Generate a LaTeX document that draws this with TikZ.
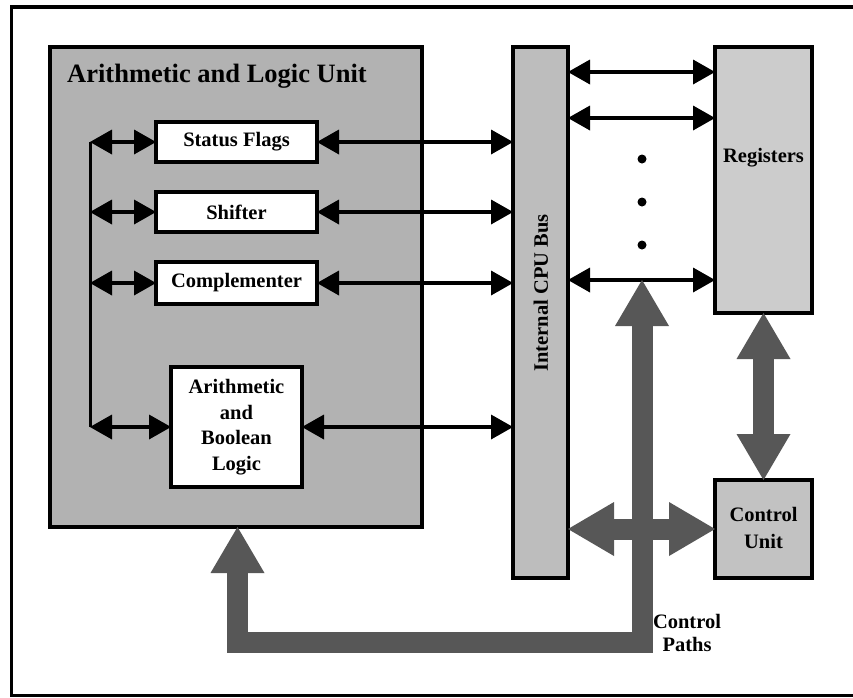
\documentclass[tikz,border=0pt]{standalone}
\usepackage{fontspec}
\setmainfont{Liberation Serif}
\usetikzlibrary{arrows.meta,calc}

\definecolor{aluFill}{gray}{0.70}
\definecolor{busFill}{gray}{0.74}
\definecolor{regFill}{gray}{0.80}
\definecolor{ctlFill}{gray}{0.76}
\definecolor{pathGrey}{gray}{0.34}

\tikzset{
  bhead/.tip={Triangle[length=22pt,width=25pt,line width=0pt]},
  fhead/.tip={Triangle[length=46pt,width=54pt,line width=0pt]},
  unitbox/.style={draw=black, line width=4.5pt, inner sep=0pt, outer sep=0pt},
  whitebox/.style={unitbox, fill=white, line width=4pt},
  lbl/.style={font=\fontsize{20.5}{25.5}\selectfont\bfseries, align=center, inner sep=0pt},
  busarrow/.style={line width=3.5pt, bhead-bhead},
  fatpath/.style={draw=pathGrey, line width=21pt, line join=miter, fhead-fhead},
  blob/.style={circle, fill=black, inner sep=0pt, minimum size=9pt}
}

\begin{document}
\begin{tikzpicture}[x=1pt,y=-1pt]
\useasboundingbox (0,0) rectangle (853,697);

% page frame
\draw[line width=3.5pt] (853,7) -- (11.5,7) -- (11.5,697);
\draw[line width=3pt] (11.5,695) -- (853,695);

% main units
\node[unitbox, fill=aluFill, minimum width=372pt, minimum height=480pt] (alu) at (236,287) {};
\node[font=\fontsize{26.5}{30}\selectfont\bfseries, anchor=base west, inner sep=0pt] (alutitle) at (67,82) {Arithmetic and Logic Unit};

\node[unitbox, fill=busFill, minimum width=55pt, minimum height=531pt] (bus) at (540.5,312.5) {};
\node[lbl, rotate=90] (buslabel) at (541,293) {Internal CPU Bus};

\node[unitbox, fill=regFill, minimum width=97pt, minimum height=266pt] (reg) at (763.5,180) {};
\node[lbl] (reglabel) at (763.5,158) {Registers};

\node[unitbox, fill=ctlFill, minimum width=97pt, minimum height=98pt] (cu) at (763.5,529) {};
\node[lbl] (culabel) at (763.5,528) {Control\\[1pt]Unit};

% ALU components
\node[whitebox, minimum width=161pt, minimum height=40pt] (sf) at (236.5,142) {};
\node[lbl] at (sf) {Status Flags};
\node[whitebox, minimum width=161pt, minimum height=40pt] (sh) at (236.5,212) {};
\node[lbl] at (sh) {Shifter};
\node[whitebox, minimum width=161pt, minimum height=42pt] (cm) at (236.5,283) {};
\node[lbl] at (cm) {Complementer};
\node[whitebox, minimum width=131pt, minimum height=120pt] (ab) at (236.5,427) {};
\node[lbl] at (ab) {Arithmetic\\and\\Boolean\\Logic};

% internal ALU line
\coordinate (lt) at (90,142);
\coordinate (lb) at (90,427);
\draw[line width=3pt] (lt) -- (lb);
\foreach \u in {sf,sh,cm,ab}
  \draw[busarrow] (\u.west -| lt) -- (\u.west);

% ALU components to the internal bus
\foreach \u in {sf,sh,cm,ab}
  \draw[busarrow] (\u.east) -- (\u.east -| bus.west);

% internal bus to registers
\coordinate (r1) at (640,72);
\coordinate (r2) at (640,118);
\coordinate (r3) at (640,280);
\foreach \r in {r1,r2,r3}
  \draw[busarrow] (\r -| bus.east) -- (\r -| reg.west);
\node[blob] (d1) at (642,159) {};
\node[blob] (d2) at (642,202) {};
\node[blob] (d3) at (642,245) {};

% control paths
\coordinate (cp) at (642,642);
\coordinate (ap) at (237.5,0);
\draw[fatpath] (bus.east |- cu.west) -- (cu.west);
\draw[fatpath] (alu.south -| ap) |- (cp) -- (cp |- r3);
\draw[fatpath] (reg.south) -- (cu.north);
\node[lbl, anchor=north] (cplabel) at (687,614) {Control\\[-2pt]Paths};

\end{tikzpicture}
\end{document}
